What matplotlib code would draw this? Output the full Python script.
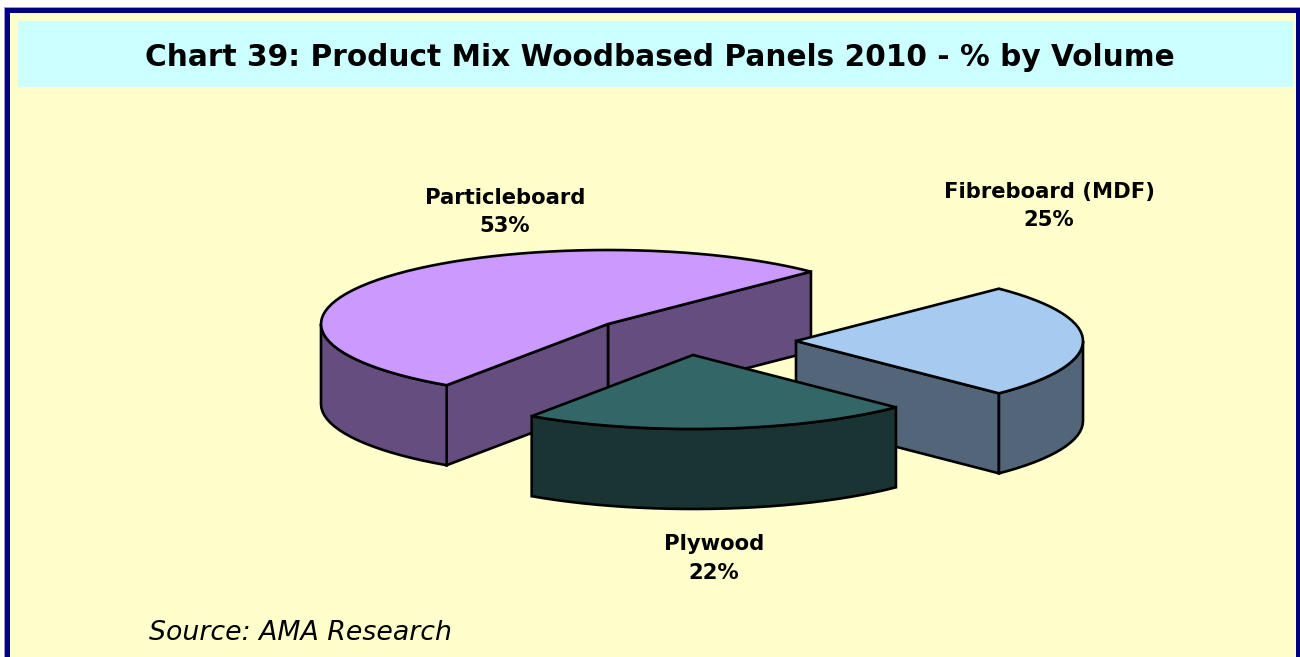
import numpy as np
import matplotlib
matplotlib.use('Agg')
import matplotlib.pyplot as plt
from matplotlib.patches import Polygon, Rectangle

# Product mix, % by volume
products = ['Particleboard', 'Plywood', 'Fibreboard (MDF)']
shares = [53, 22, 25]
top_colors = ['#CC99FF', '#336666', '#A6CAF0']
side_colors = ['#664D80', '#1A3333', '#536579']

start_angle = 45
rx, ry = 287, 74
depth = 80
# where each pulled-out slice has its hub
hubs = [(608, 324), (693, 355), (796, 341)]

fig = plt.figure(figsize=(13, 6.57), dpi=100, facecolor='white')
ax = fig.add_axes([0, 0, 1, 1])
ax.set_xlim(0, 1300)
ax.set_ylim(657, 0)
ax.axis('off')

# frame and title band
ax.add_patch(Rectangle((4, 7), 1296, 660, fc='#9999CC', ec='none', zorder=0))
ax.add_patch(Rectangle((5, 8), 1295, 660, fc='#000080', ec='none', zorder=0))
ax.add_patch(Rectangle((10, 12.5), 1286, 660, fc='#FFFFCC', ec='none', zorder=0))
ax.add_patch(Rectangle((18, 21), 1275, 66, fc='#CCFFFF', ec='none', zorder=0))


def arc(cx, cy, a0, a1):
    # the rim is built from short straight pieces
    n = int(abs(a1 - a0) / 3) + 2
    t = np.radians(np.linspace(a0, a1, n))
    return np.column_stack([cx + rx * np.cos(t), cy - ry * np.sin(t)])


def draw_slice(cx, cy, a0, a1, top_color, side_color):
    style = dict(ec='black', lw=1.9, joinstyle='miter')
    drop = np.array([0, depth])
    hub = np.array([cx, cy])

    # cut faces, only those turned towards the viewer
    for a, visible in ((a0, np.cos(np.radians(a0)) > 0), (a1, np.cos(np.radians(a1)) < 0)):
        if visible:
            rim = arc(cx, cy, a, a)[0]
            ax.add_patch(Polygon([hub, rim, rim + drop, hub + drop], fc=side_color, **style))

    # outer wall, front half of the ellipse only
    for lo, hi in ((180, 360), (540, 720)):
        w0, w1 = max(a0, lo), min(a1, hi)
        if w0 < w1:
            edge = arc(cx, cy, w0, w1)
            ax.add_patch(Polygon(np.vstack([edge, (edge + drop)[::-1]]), fc=side_color, **style))

    ax.add_patch(Polygon(np.vstack([hub, arc(cx, cy, a0, a1)]), fc=top_color, **style))


# work out each slice's angles from its share
angles = []
a = start_angle
for s in shares:
    angles.append((a, a + s * 3.6))
    a += s * 3.6

# back to front: particleboard, fibreboard, plywood
for i in [0, 2, 1]:
    a0, a1 = angles[i]
    draw_slice(hubs[i][0], hubs[i][1], a0, a1, top_colors[i], side_colors[i])

# labels
label_pos = [(505, 198, 226), (714, 544, 573), (1049, 192, 220)]
for name, s, (x, y1, y2) in zip(products, shares, label_pos):
    ax.text(x, y1, name, ha='center', va='center', fontsize=15.2, fontweight='bold', color='black')
    ax.text(x, y2, f'{s}%', ha='center', va='center', fontsize=15.2, fontweight='bold', color='black')

ax.text(660, 57, 'Chart 39: Product Mix Woodbased Panels 2010 - % by Volume',
        ha='center', va='center', fontsize=21.3, fontweight='bold', color='black')
ax.text(149, 633, 'Source: AMA Research', ha='left', va='center', fontsize=19.3,
        fontstyle='italic', color='black')

fig.savefig('out.png', dpi=100, facecolor='white')
